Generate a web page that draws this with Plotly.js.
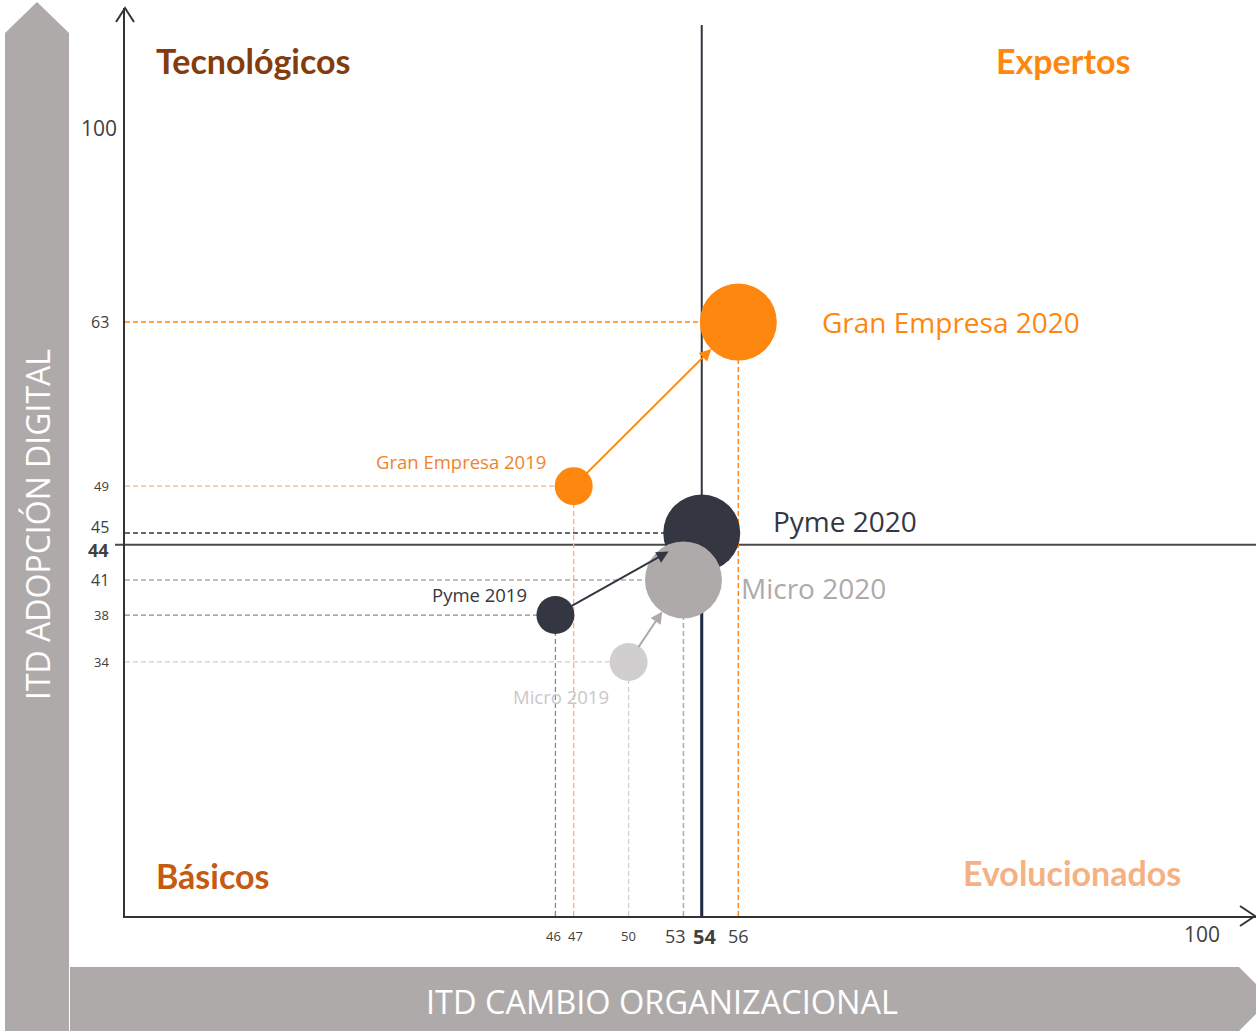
<!DOCTYPE html>
<html>
<head>
<meta charset="utf-8">
<script src="https://cdn.plot.ly/plotly-3.0.1.min.js"></script>
<style>
  html, body { margin: 0; padding: 0; background: #fff; }
  #chart { width: 1256px; height: 1031px; }
</style>
</head>
<body>
<div id="chart"></div>
<script>
// values
const segments = ["Gran Empresa", "Pyme", "Micro"];
const cambio2019 = [47, 46, 50];
const adopcion2019 = [49, 38, 34];
const cambio2020 = [56, 54, 53];
const adopcion2020 = [63, 45, 41];
const medianCambio = 54;
const medianAdopcion = 44;
const axisMax = 100;
const quadrants = ["Tecnológicos", "Expertos", "Básicos", "Evolucionados"];

// styles per segment
const col2020 = ["#fd870f", "#343741", "#aeaaaa"];
const col2019 = ["#fd870f", "#343741", "#d0cece"];
const guide2020 = ["#fd870f", "#343741", "#aeaaaa"];
const guide2019 = ["#f4b183", "#8a8a8a", "#d0cece"];
const text2019 = ["#f0832a", "#343741", "#c9c7c7"];

const xRange = [22.47, 84.3];
const yRange = [12.32, 89.8];

// pixel -> paper helpers for decoration (plot area 125..1256 x 8..916)
const px = (x) => (x - 125) / 1131;
const py = (y) => (916 - y) / 908;

function uniqSort(arr) {
  return Array.from(new Set(arr)).sort((a, b) => a - b);
}

const xTicks = uniqSort([...cambio2019, ...cambio2020, medianCambio]);
const yTicks = uniqSort([...adopcion2019, ...adopcion2020, medianAdopcion]);

// tick label look: median bold, 2020 values larger, 2019 values small
const tickFont = (v, set2020, median, big, small) => {
  if (v === median) return { size: big + 2, text: "<b>" + v + "</b>" };
  return { size: set2020.includes(v) ? big : small, text: String(v) };
};

const traces = [
  {
    x: cambio2019,
    y: adopcion2019,
    mode: "markers",
    type: "scatter",
    hoverinfo: "skip",
    marker: { size: 38, color: col2019, line: { width: 0 } },
  },
  {
    x: cambio2020,
    y: adopcion2020,
    mode: "markers",
    type: "scatter",
    hoverinfo: "skip",
    marker: { size: 77, color: col2020, line: { width: 0 } },
  },
];

const dashPat = "5px,3px";
const shapes = [];

// grey bands behind the axis titles
shapes.push({
  type: "path", xref: "paper", yref: "paper", layer: "below",
  path: `M${px(5)},${py(1031)} L${px(5)},${py(33)} L${px(37)},${py(2)} L${px(69)},${py(33)} L${px(69)},${py(1031)} Z`,
  fillcolor: "#aeaaaa", line: { width: 0 },
});
shapes.push({
  type: "path", xref: "paper", yref: "paper", layer: "below",
  path: `M${px(70)},${py(967)} L${px(1239)},${py(967)} L${px(1271)},${py(999)} L${px(1239)},${py(1031)} L${px(70)},${py(1031)} Z`,
  fillcolor: "#aeaaaa", line: { width: 0 },
});

// guide lines to the axes
segments.forEach((s, i) => {
  shapes.push({
    type: "line", layer: "below", xref: "x", yref: "y",
    x0: xRange[0], x1: cambio2019[i], y0: adopcion2019[i], y1: adopcion2019[i],
    line: { color: guide2019[i], width: 1.3, dash: dashPat },
  });
  shapes.push({
    type: "line", layer: "below", xref: "x", yref: "y",
    x0: cambio2019[i], x1: cambio2019[i], y0: yRange[0], y1: adopcion2019[i],
    line: { color: guide2019[i], width: 1.3, dash: dashPat },
  });
  shapes.push({
    type: "line", layer: "below", xref: "x", yref: "y",
    x0: xRange[0], x1: cambio2020[i], y0: adopcion2020[i], y1: adopcion2020[i],
    line: { color: guide2020[i], width: 1.5, dash: dashPat },
  });
  shapes.push({
    type: "line", layer: "below", xref: "x", yref: "y",
    x0: cambio2020[i], x1: cambio2020[i], y0: yRange[0], y1: adopcion2020[i],
    line: { color: i === 1 ? "#1f2a44" : guide2020[i], width: i === 1 ? 3 : 1.5, dash: i === 1 ? "solid" : dashPat },
  });
});

// quadrant dividers
shapes.push({
  type: "line", layer: "below", xref: "x", yref: "paper",
  x0: medianCambio, x1: medianCambio, y0: 0, y1: py(25),
  line: { color: "#343741", width: 2 },
});
shapes.push({
  type: "line", layer: "below", xref: "paper", yref: "y",
  x0: px(115), x1: 1, y0: medianAdopcion, y1: medianAdopcion,
  line: { color: "#4a4a4a", width: 2 },
});

// open arrow heads on the axes
shapes.push({
  type: "path", xref: "paper", yref: "paper",
  path: `M${px(116)},${py(22)} L${px(125)},${py(8)} L${px(134)},${py(22)}`,
  line: { color: "#333", width: 2 },
});
shapes.push({
  type: "path", xref: "paper", yref: "paper",
  path: `M${px(1240)},${py(906)} L${px(1255)},${py(916)} L${px(1240)},${py(926)}`,
  line: { color: "#333", width: 2 },
});

const annotations = [];

// arrows 2019 -> 2020
segments.forEach((s, i) => {
  annotations.push({
    x: cambio2020[i], y: adopcion2020[i],
    ax: cambio2019[i], ay: adopcion2019[i],
    xref: "x", yref: "y", axref: "x", ayref: "y",
    text: "", showarrow: true,
    arrowhead: 2, arrowsize: 1.2, arrowwidth: 2,
    arrowcolor: col2020[i],
    standoff: 38, startstandoff: 16,
  });
});

// point labels
const off2020 = [[82, 0], [69, 12], [56, -8]];
const off2019 = [[-26, 25, "right"], [-26, 21, "right"], [-68, -35, "center"]];
segments.forEach((s, i) => {
  annotations.push({
    x: cambio2020[i], y: adopcion2020[i], xref: "x", yref: "y",
    text: s + " 2020", showarrow: false, xanchor: "left", yanchor: "middle",
    xshift: off2020[i][0], yshift: off2020[i][1],
    font: { family: "Open Sans", size: 28, color: col2020[i] },
  });
  annotations.push({
    x: cambio2019[i], y: adopcion2019[i], xref: "x", yref: "y",
    text: s + " 2019", showarrow: false, xanchor: off2019[i][2], yanchor: "middle",
    xshift: off2019[i][0], yshift: off2019[i][1],
    font: { family: "Open Sans", size: 18.5, color: text2019[i] },
  });
});

// tick labels (a few nudged apart where ticks crowd)
const xNudge = { 46: -2, 47: 2, 53: -8, 54: 3 };
const yNudge = { 45: 6, 44: -5 };
xTicks.forEach((v) => {
  const f = tickFont(v, cambio2020, medianCambio, 18, 13);
  annotations.push({
    x: v, xref: "x", y: py(936), yref: "paper", xanchor: "center", yanchor: "middle",
    xshift: xNudge[v] || 0, text: f.text, showarrow: false,
    font: { family: "Open Sans", size: f.size, color: "#404040" },
  });
});
yTicks.forEach((v) => {
  const f = tickFont(v, adopcion2020, medianAdopcion, 16, 13);
  annotations.push({
    y: v, yref: "y", x: px(111), xref: "paper", xanchor: "right", yanchor: "middle",
    yshift: yNudge[v] || 0, text: f.text, showarrow: false,
    font: { family: "Open Sans", size: f.size, color: "#404040" },
  });
});

// quadrant names
const quadFont = (c) => ({ family: "Lato", size: 34, color: c });
const quad = (i, x, y, anchor, c) => ({
  xref: "paper", yref: "paper", x: px(x), y: py(y), xanchor: anchor, yanchor: "middle",
  text: "<b>" + quadrants[i] + "</b>", showarrow: false, font: quadFont(c),
});
annotations.push(
  quad(0, 154, 60, "left", "#843c0c"),
  quad(1, 1132, 60, "right", "#fd870f"),
  quad(2, 154, 875, "left", "#c55a11"),
  quad(3, 1183, 872, "right", "#f4b183"),
);

// axis ends "100" and band titles
annotations.push(
  { xref: "paper", yref: "paper", x: px(119), y: py(128), xanchor: "right", yanchor: "middle", text: String(axisMax), showarrow: false, font: { family: "Open Sans", size: 21, color: "#404040" } },
  { xref: "paper", yref: "paper", x: px(1222), y: py(934), xanchor: "right", yanchor: "middle", text: String(axisMax), showarrow: false, font: { family: "Open Sans", size: 21, color: "#404040" } },
  { xref: "paper", yref: "paper", x: px(38), y: py(525), xanchor: "center", yanchor: "middle", text: "ITD ADOPCIÓN DIGITAL", textangle: -90, showarrow: false, font: { family: "Open Sans", size: 32, color: "#ffffff" } },
  { xref: "paper", yref: "paper", x: px(662), y: py(1001), xanchor: "center", yanchor: "middle", text: "ITD CAMBIO ORGANIZACIONAL", showarrow: false, font: { family: "Open Sans", size: 32.5, color: "#ffffff" } },
);

const layout = {
  width: 1256,
  height: 1031,
  margin: { l: 125, r: 0, t: 8, b: 115 },
  paper_bgcolor: "#ffffff",
  plot_bgcolor: "#ffffff",
  showlegend: false,
  font: { family: "Open Sans", color: "#404040" },
  xaxis: {
    range: xRange,
    showgrid: false, zeroline: false,
    showline: true, linecolor: "#333", linewidth: 2,
    ticks: "", tickvals: xTicks, showticklabels: false,
  },
  yaxis: {
    range: yRange,
    showgrid: false, zeroline: false,
    showline: true, linecolor: "#333", linewidth: 2,
    ticks: "", tickvals: yTicks, showticklabels: false,
  },
  shapes: shapes,
  annotations: annotations,
};

Plotly.newPlot("chart", traces, layout, { staticPlot: true, displayModeBar: false });
</script>
</body>
</html>
